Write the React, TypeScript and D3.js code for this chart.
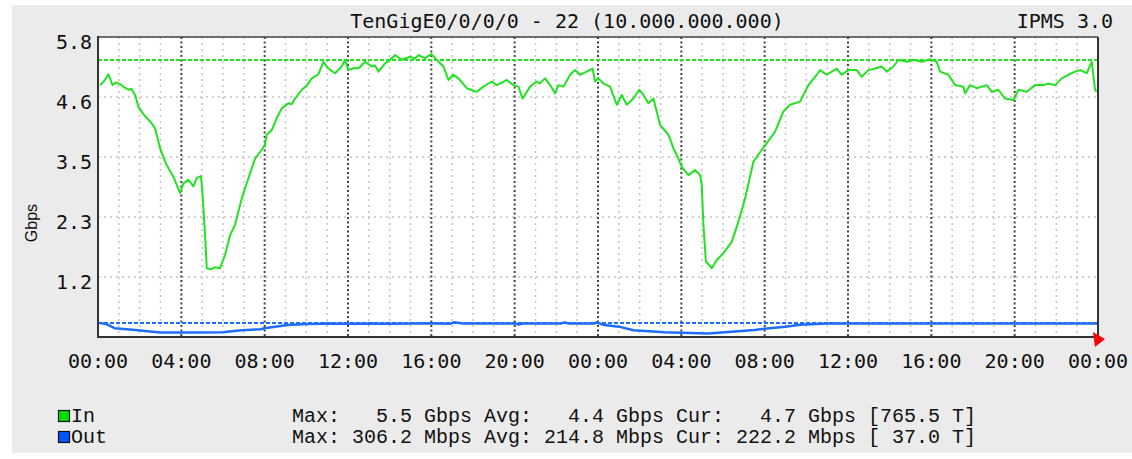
import React from "react";
import * as d3 from "d3";

// ---- data ----
const inHours = [0.1,0.3,0.5,0.7,0.85,1.06,1.25,1.46,1.6,1.78,1.94,2.2,2.42,2.6,2.74,2.98,3.22,3.4,3.62,3.94,4.1,4.34,4.46,4.58,4.74,4.94,5.0,5.14,5.22,5.46,5.6,5.86,6.1,6.34,6.58,6.9,7.22,7.54,7.86,8.0,8.1,8.34,8.6,8.82,9.14,9.3,9.46,9.78,10.0,10.26,10.58,10.82,11.06,11.2,11.38,11.7,11.86,12.02,12.3,12.5,12.82,13.14,13.3,13.46,13.78,14.02,14.26,14.58,14.98,15.2,15.38,15.7,16.0,16.26,16.58,16.82,17.06,17.3,17.7,18.18,18.5,18.9,19.14,19.4,19.62,19.94,20.18,20.38,20.74,21.06,21.2,21.46,21.7,21.94,22.1,22.34,22.66,22.9,23.14,23.46,23.74,23.86,24.02,24.26,24.58,24.9,25.14,25.38,25.7,25.98,26.18,26.42,26.66,26.98,27.38,27.62,27.86,28.02,28.34,28.66,28.9,28.98,29.06,29.18,29.46,29.7,30.02,30.42,30.74,31.06,31.46,31.86,32.1,32.5,32.9,33.22,33.7,34.1,34.5,34.66,34.98,35.46,35.7,36.02,36.42,36.66,36.98,37.3,37.62,37.86,38.18,38.42,38.82,39.14,39.54,39.94,40.26,40.42,40.82,41.14,41.54,41.62,41.86,42.18,42.66,42.9,43.22,43.54,43.94,44.18,44.58,44.98,45.38,45.62,45.94,46.26,46.58,46.9,47.14,47.46,47.7,47.86,47.94];
const inGbps = [4.87,4.95,5.08,4.87,4.92,4.89,4.83,4.78,4.8,4.68,4.45,4.3,4.2,4.12,4.03,3.65,3.39,3.25,3.1,2.78,2.97,3.04,2.98,2.91,3.07,3.11,2.87,1.97,1.33,1.31,1.35,1.33,1.59,1.97,2.17,2.68,3.07,3.45,3.62,3.7,3.91,4.0,4.25,4.42,4.52,4.5,4.61,4.78,4.85,5.0,5.08,5.32,5.19,5.15,5.1,5.23,5.36,5.16,5.2,5.19,5.32,5.23,5.25,5.13,5.29,5.36,5.45,5.36,5.42,5.38,5.45,5.39,5.47,5.36,5.23,4.97,5.07,5.0,4.81,4.74,4.84,4.94,4.87,4.92,4.97,4.87,4.84,4.61,4.84,4.94,4.9,5.0,4.87,4.71,4.87,4.84,5.07,5.16,5.07,5.13,5.19,4.94,5.0,4.9,4.84,4.49,4.68,4.49,4.61,4.78,4.68,4.52,4.61,4.1,3.91,3.65,3.45,3.29,3.13,3.23,3.13,2.94,2.17,1.46,1.33,1.49,1.62,1.84,2.23,2.68,3.39,3.62,3.75,3.97,4.36,4.49,4.55,4.87,5.07,5.16,5.07,5.19,5.07,5.16,5.16,5.03,5.16,5.19,5.23,5.13,5.23,5.36,5.32,5.36,5.32,5.37,5.32,5.13,5.07,4.87,4.84,4.71,4.87,4.81,4.87,4.74,4.78,4.61,4.58,4.78,4.74,4.87,4.87,4.9,4.87,5.0,5.07,5.13,5.16,5.1,5.32,4.78,4.74];

const outHours = [0.1,0.4,0.8,1.8,2.6,3.0,4.5,6.0,6.2,6.9,7.8,8.0,8.5,9.1,9.8,11.0,12.0,13.0,14.0,15.0,16.0,16.9,17.1,17.5,18.5,20.0,20.2,20.4,22.2,22.4,22.6,23.8,23.95,24.3,25.0,25.7,27.2,29.3,30.4,31.5,32.1,33.0,33.7,34.5,35.0,48.0];
const outGbps = [0.27,0.25,0.17,0.135,0.10,0.085,0.085,0.09,0.10,0.13,0.15,0.17,0.2,0.23,0.245,0.26,0.255,0.26,0.255,0.26,0.265,0.255,0.285,0.26,0.26,0.26,0.24,0.26,0.26,0.28,0.26,0.26,0.28,0.23,0.2,0.13,0.09,0.07,0.1,0.135,0.165,0.2,0.235,0.25,0.26,0.26];

const inMaxLine = 5.355;
const outMaxLine = 0.272;

const yTickValues = [1.16, 2.32, 3.48, 4.64, 5.8];
const yTickLabels = ["1.2", "2.3", "3.5", "4.6", "5.8"];
const xTickLabels = ["00:00","04:00","08:00","12:00","16:00","20:00","00:00","04:00","08:00","12:00","16:00","20:00","00:00"];

const title = "TenGigE0/0/0/0 - 22 (10.000.000.000)";
const brand = "IPMS 3.0";
const yLabel = "Gbps";
const legendNames = ["In", "Out"];
const legendStats = [
  "Max:   5.5 Gbps Avg:   4.4 Gbps Cur:   4.7 Gbps [765.5 T]",
  "Max: 306.2 Mbps Avg: 214.8 Mbps Cur: 222.2 Mbps [ 37.0 T]",
];

const GREEN = "#22e222";
const BLUE = "#1f6dff";
const MONO = "'DejaVu Sans Mono', monospace";
const LMONO = "'Liberation Mono', monospace";

export default function App() {
  const W = 1132, H = 459;
  const left = 98, right = 1098, top = 37, bottom = 337;
  const x = d3.scaleLinear().domain([0, 48]).range([left, right]);
  const y = d3.scaleLinear().domain([0, 5.8]).range([bottom, top]);

  const inData = inHours.map((h, i) => [h, inGbps[i]] as [number, number]);
  const outData = outHours.map((h, i) => [h, outGbps[i]] as [number, number]);
  const line = d3.line<[number, number]>().x(d => x(d[0])).y(d => y(d[1]));

  const hourTicks = d3.range(0, 49, 1);
  const majorTicks = d3.range(0, 49, 4);

  return (
    <svg width={W} height={H} style={{ position: "absolute", left: 0, top: 0 }}>
      <rect x={0} y={0} width={W} height={H} fill="#ffffff" />
      <rect x={12} y={5} width={W - 12} height={448} fill="#ebebeb" />
      <rect x={left} y={top} width={right - left} height={bottom - top} fill="#ffffff" />

      {/* minor vertical grid */}
      {hourTicks.filter(h => h % 4 !== 0).map(h => (
        <line key={"mv" + h} x1={x(h)} x2={x(h)} y1={top} y2={bottom}
          stroke="#c4c4c4" strokeWidth={1.5} strokeDasharray="2,4" />
      ))}
      {/* horizontal grid */}
      {yTickValues.map(v => (
        <line key={"hg" + v} x1={left} x2={right} y1={y(v)} y2={y(v)}
          stroke="#c4c4c4" strokeWidth={1.5} strokeDasharray="2,4" />
      ))}
      {/* major vertical grid */}
      {majorTicks.map(h => (
        <line key={"MV" + h} x1={x(h)} x2={x(h)} y1={top} y2={bottom}
          stroke="#444" strokeWidth={2} strokeDasharray="2,2.5" />
      ))}

      {/* max lines */}
      <line x1={left} x2={right} y1={y(inMaxLine)} y2={y(inMaxLine)} stroke={GREEN} strokeWidth={2} strokeDasharray="4,2" />
      <line x1={left} x2={right} y1={y(outMaxLine)} y2={y(outMaxLine)} stroke={BLUE} strokeWidth={2} strokeDasharray="4,2" />

      {/* series */}
      <path d={line(inData) || ""} fill="none" stroke={GREEN} strokeWidth={2} strokeLinejoin="round" />
      <path d={line(outData) || ""} fill="none" stroke={BLUE} strokeWidth={2.5} strokeLinejoin="round" />

      {/* frame */}
      <line x1={left} x2={right} y1={top} y2={top} stroke="#444" strokeWidth={1.5} />
      <line x1={right} x2={right} y1={top} y2={bottom} stroke="#333" strokeWidth={2} />
      <line x1={left} x2={left} y1={top - 1} y2={bottom + 1} stroke="#333" strokeWidth={2} />
      <line x1={left - 1} x2={right + 1} y1={bottom} y2={bottom} stroke="#333" strokeWidth={2} />
      <path d={`M${right - 5},${bottom - 5} L${right + 7},${bottom + 2} L${right - 3},${bottom + 10} Z`} fill="#ff0000" />

      {/* y tick labels */}
      {yTickValues.map((v, i) => (
        <text key={"yl" + v} x={92} y={y(v) + 12} textAnchor="end" fontFamily={MONO} fontSize={20} fill="#111">{yTickLabels[i]}</text>
      ))}
      {/* x tick labels */}
      {majorTicks.map((h, i) => (
        <text key={"xl" + h} x={x(h)} y={368} textAnchor="middle" fontFamily={MONO} fontSize={20} fill="#111">{xTickLabels[i]}</text>
      ))}

      <text x={567} y={28} textAnchor="middle" fontFamily={MONO} fontSize={20} fill="#111">{title}</text>
      <text x={1113} y={28} textAnchor="end" fontFamily={MONO} fontSize={20} fill="#111">{brand}</text>
      <text transform="translate(37,223) rotate(-90)" textAnchor="middle" fontFamily="'Liberation Sans', sans-serif" fontSize={16} fill="#111">{yLabel}</text>

      {/* legend */}
      {legendNames.map((n, i) => (
        <g key={n}>
          <rect x={58.5} y={410.5 + i * 21} width={11} height={11} fill={i === 0 ? "#00dd00" : "#0055ff"} stroke="#111" strokeWidth={1.2} />
          <text x={71} y={422 + i * 21} fontFamily={LMONO} fontSize={20} fill="#111">{n}</text>
          <text x={292} y={422 + i * 21} fontFamily={LMONO} fontSize={20} fill="#111" style={{ whiteSpace: "pre" }}>{legendStats[i]}</text>
        </g>
      ))}
    </svg>
  );
}
